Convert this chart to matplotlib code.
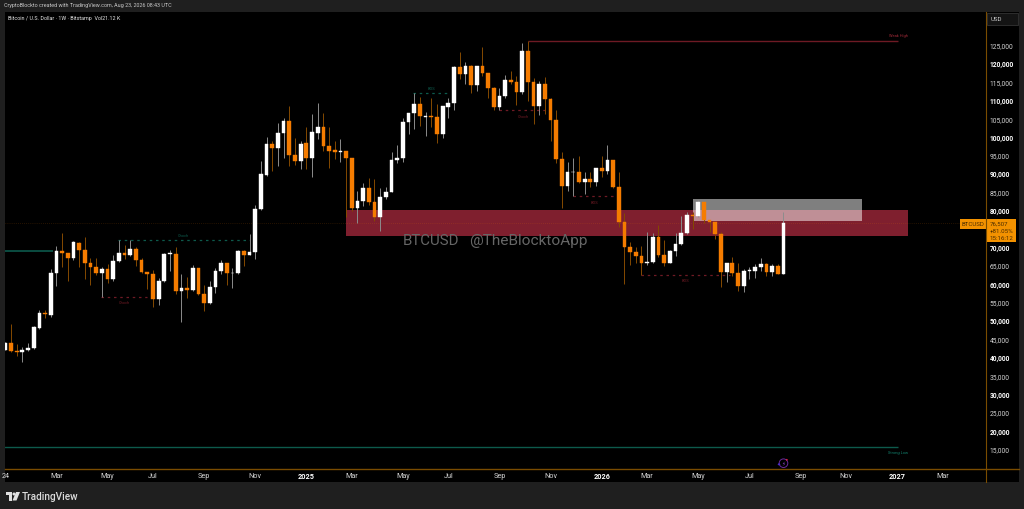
"""BTCUSD weekly candles with supply zones, TradingView style dark theme."""
import matplotlib
matplotlib.use("Agg")
import matplotlib.pyplot as plt
from matplotlib.lines import Line2D
from matplotlib.patches import Circle, Polygon, Rectangle
from matplotlib.transforms import Affine2D

plt.rcParams["font.family"] = ["Roboto", "DejaVu Sans"]

W, H = 1024, 510
ORANGE = "#f57c00"
WICK_UP = "#8c8c8c"
WICK_DOWN = "#854a00"
GOLD_LINE = "#7a4c00"
RED = "#6e1a24"
TEAL = "#0d5a4c"

# weekly bars, week 0 = 2024-01-01
opens = [42000, 43800, 41600, 41300, 41800, 42300, 47900, 52000, 51500, 62900,
         68800, 68300, 66900, 71100, 69200, 65600, 64600, 62900, 63900, 61200,
         66000, 68400, 67600, 69500, 66400, 63100, 62600, 55700, 60700, 68100,
         68100, 57900, 58700, 58100, 64200, 57100, 54700, 58900, 63400, 65500,
         62700, 62700, 68800, 67700, 68600, 80200, 89500, 98000, 97000, 101000,
         104200, 95000, 93300, 98200, 94200, 100900, 102500, 97500, 96400, 95900,
         96100, 94100, 80500, 82400, 86000, 82100, 78100, 83500, 85000, 93700,
         94100, 104000, 106300, 108900, 105400, 105600, 105400, 100800, 108100, 109000,
         119000, 117000, 119300, 113900, 119100, 117200, 113200, 108000, 110900, 115300,
         114800, 112000, 123300, 114900, 108300, 114400, 110300, 104400, 93900, 86600,
         90200, 90300, 87700, 88400, 87600, 91400, 90600, 93500, 86200, 76700,
         70000, 68600, 67500, 65600, 65800, 72700, 67700, 65600, 68700, 70600,
         73700, 78500, 78300, 82200, 77200, 76800, 73500, 63100, 65600, 62900,
         59300, 63500, 63500, 64400, 65300, 63200, 64700, 62600]
highs = [44000, 48900, 43500, 42600, 43700, 48300, 52700, 52800, 63800, 70100,
         73700, 68300, 71500, 71400, 72600, 66800, 67000, 64600, 65400, 67600,
         71900, 70500, 71900, 69900, 67000, 63100, 63700, 61400, 68200, 69200,
         69900, 62600, 61700, 65000, 64200, 59700, 60600, 64100, 66400, 65500,
         64200, 69200, 69200, 73500, 81300, 93200, 99800, 98900, 103600, 105000,
         108200, 99700, 98900, 102600, 106100, 109200, 106400, 102500, 98900, 99300,
         96100, 94100, 85200, 87300, 88700, 88400, 86000, 86300, 95700, 97800,
         105000, 106300, 111800, 110700, 106600, 110400, 108800, 108200, 110400, 119300,
         123000, 120200, 119500, 119200, 124400, 117300, 113400, 113300, 116700, 117800,
         116500, 125500, 126100, 115900, 115200, 116200, 110400, 107200, 95800, 93000,
         94100, 94600, 90300, 90400, 91400, 94600, 97700, 93500, 90300, 79200,
         71200, 70000, 70100, 73900, 73700, 75800, 71800, 69100, 73700, 78300,
         79400, 79400, 82700, 82200, 77200, 76800, 73900, 65600, 67100, 65600,
         63900, 64500, 65400, 66800, 65600, 65300, 65300, 79400]
lows = [41800, 41400, 40300, 38500, 41600, 42100, 47700, 50500, 50900, 59300,
        64500, 60700, 66400, 64400, 61200, 59500, 62300, 56300, 60200, 60700,
        65800, 66600, 67400, 64800, 62800, 58400, 53500, 54200, 60500, 63300,
        57100, 49600, 56000, 57800, 56900, 52600, 54500, 57500, 62500, 59700,
        58700, 62500, 64800, 67600, 66600, 80100, 89200, 90500, 92000, 94200,
        92100, 92200, 91200, 91100, 89100, 99300, 96100, 91400, 93900, 93000,
        78100, 79800, 76400, 81000, 81400, 77000, 74300, 83000, 84900, 92800,
        93100, 100600, 102000, 102900, 100200, 102700, 98200, 99700, 105000, 107300,
        115700, 114300, 111800, 112500, 116600, 110600, 107300, 107100, 110500, 114300,
        108600, 111600, 109600, 103500, 105900, 106200, 98800, 92800, 80500, 85100,
        83700, 87300, 84300, 86200, 86600, 89000, 89900, 85900, 75400, 59800,
        65000, 65500, 62300, 65000, 65500, 67300, 64800, 65500, 67500, 70500,
        73500, 74800, 78000, 76400, 73900, 72200, 58900, 60500, 61900, 57900,
        57700, 61200, 61600, 63500, 62000, 62000, 62600, 62500]
closes = [43800, 41600, 41300, 41900, 42400, 48100, 51900, 51600, 62900, 68800,
          68200, 66900, 71200, 69100, 65600, 64600, 62900, 63900, 61300, 66100,
          68400, 67600, 69500, 66400, 63000, 62500, 55700, 60700, 68000, 68300,
          57900, 58700, 58100, 64200, 57100, 54700, 59000, 63500, 65500, 62700,
          62800, 68800, 67700, 68600, 80300, 89700, 98000, 97000, 101000, 104200,
          94900, 93300, 98000, 94200, 101100, 102500, 97400, 96100, 95900, 96100,
          94100, 80500, 82400, 86000, 82100, 78100, 83500, 85000, 93700, 94100,
          104000, 106300, 108900, 105500, 105600, 105400, 100800, 108200, 109100, 119000,
          117000, 119300, 113900, 119200, 117200, 113200, 108000, 110900, 115300, 114800,
          112000, 123300, 114900, 108300, 114400, 110300, 104400, 93900, 86600, 90300,
          90300, 87700, 88400, 87600, 91400, 90600, 93500, 86200, 76700, 70000,
          68600, 67500, 65600, 65800, 72700, 67700, 65600, 68800, 70600, 73700,
          78500, 78300, 82200, 77200, 76700, 73500, 63100, 65600, 62900, 59300,
          63500, 63700, 64500, 65300, 63200, 64700, 62600, 76507]

# month labels sit on the first bar of the month
tick_weeks = [0, 9, 18, 26, 35, 44, 53, 61, 70, 78, 87, 96, 105, 113, 122, 131, 140, 148, 157, 165]
tick_labels = ["24", "Mar", "May", "Jul", "Sep", "Nov", "2025", "Mar", "May", "Jul", "Sep", "Nov",
               "2026", "Mar", "May", "Jul", "Sep", "Nov", "2027", "Mar"]
# 75,000 is hidden behind the price tag
price_ticks = [15000, 20000, 25000, 30000, 35000, 40000, 45000, 50000, 55000, 60000, 65000, 70000,
               80000, 85000, 90000, 95000, 100000, 105000, 110000, 115000, 120000, 125000]

# zones: week from, week to, price low, price high
red_zone = (60, 159, 73000, 80000)
gray_zone = (121, 150.8, 77100, 83000)
last_price = 76507

# structure lines
teal_line = (-1, 8.4, 68800)
weak_high = (92, 157.2, 126100, "Weak High")
strong_low = (-1, 157.2, 15400, "Strong Low")
dotted_lines = [
    (19.8, 43, 71800, "Choch", TEAL, 1),
    (16.8, 25, 56300, "Choch", RED, -1),
    (71.8, 78.3, 111800, "BOS", TEAL, 1),
    (86.9, 95.5, 107100, "Choch", RED, -1),
    (100, 107.3, 83700, "BOS", RED, -1),
    (112, 127.6, 62300, "BOS", RED, -1),
]

fig = plt.figure(figsize=(W / 100, H / 100), dpi=100, facecolor="#1f1f1f")
# image pixel coordinates, origin top left, for the chrome around the chart
PX = Affine2D().scale(1 / W, -1 / H).translate(0, 1) + fig.transFigure

fig.add_artist(Rectangle((5, 13), 1014, 470, transform=PX, fc="black", ec="none", zorder=-5))

left, right, top, bottom = 5, 985.5, 13, 469.5
ax = fig.add_axes([left / W, 1 - bottom / H, (right - left) / W, (bottom - top) / H], facecolor="black")
ax.set_xlim((left - 5.3) / 5.68, (right - 5.3) / 5.68)
ax.set_ylim(137444 - 272.3 * bottom, 137444 - 272.3 * top)

# zones under the candles
x0, x1, y0, y1 = red_zone
ax.add_patch(Rectangle((x0, y0), x1 - x0, y1 - y0, fc="#7f1f2e", ec="none", zorder=1))
x0, x1, y0, y1 = gray_zone
ax.add_patch(Rectangle((x0, y0), x1 - x0, y1 - y0, fc="white", alpha=0.5, ec="none", zorder=1.1))

ax.axhline(last_price, color=ORANGE, lw=0.5, ls=(0, (1, 2)), alpha=0.3, zorder=1.2)

# structure lines and their tiny labels
ax.hlines(teal_line[2], teal_line[0], teal_line[1], color=TEAL, lw=1.2, zorder=1.5)
ax.hlines(weak_high[2], weak_high[0], weak_high[1], color=RED, lw=1.0, zorder=1.5)
ax.hlines(strong_low[2], strong_low[0], strong_low[1], color=TEAL, lw=1.0, zorder=1.5)
ax.annotate(weak_high[3], (weak_high[1], weak_high[2]), xytext=(0, 3.8), textcoords="offset points",
            ha="center", va="center", fontsize=2.9, color="#a02a38")
ax.annotate(strong_low[3], (strong_low[1], strong_low[2]), xytext=(0, -3.8), textcoords="offset points",
            ha="center", va="center", fontsize=2.9, color="#12806c")
for start, end, price, label, color, side in dotted_lines:
    ax.hlines(price, start, end, color=color, lw=0.9, ls=(0, (2, 3)), zorder=1.5)
    ax.annotate(label, ((start + end) / 2, price), xytext=(0, 3.8 * side), textcoords="offset points",
                ha="center", va="center", fontsize=2.9, color=color)

# candles
weeks = list(range(len(opens)))
body_colors = ["white" if c >= o else ORANGE for o, c in zip(opens, closes)]
wick_colors = [WICK_UP if c >= o else WICK_DOWN for o, c in zip(opens, closes)]
ax.vlines(weeks, lows, highs, colors=wick_colors, lw=0.7, zorder=2)
body_low = [min(o, c) for o, c in zip(opens, closes)]
body_size = [abs(c - o) for o, c in zip(opens, closes)]
ax.bar(weeks, body_size, bottom=body_low, width=0.66, color=body_colors,
       edgecolor=body_colors, linewidth=0.3, zorder=3)

# axes
for name, spine in ax.spines.items():
    spine.set_visible(False)
ax.yaxis.tick_right()
ax.set_yticks(price_ticks)
ax.set_yticklabels([f"{p:,}" for p in price_ticks], fontsize=4.8, color="#d6d6d6")
for p, lab in zip(price_ticks, ax.get_yticklabels()):
    if p % 10000 == 0:
        lab.set_color("white")
        lab.set_fontweight("bold")
ax.tick_params(axis="y", length=0, pad=3)
ax.set_xticks(tick_weeks)
ax.set_xticklabels(tick_labels, fontsize=5.2, color="#d6d6d6")
for lab in ax.get_xticklabels():
    if lab.get_text().startswith("20"):
        lab.set_color("white")
        lab.set_fontweight("bold")
ax.tick_params(axis="x", length=0, pad=2.5)

fig.add_artist(Line2D([5, 1019], [469.5, 469.5], transform=PX, color=GOLD_LINE, lw=1.0))
fig.add_artist(Line2D([985.7, 985.7], [13, 483], transform=PX, color=GOLD_LINE, lw=0.8))

# price tag
ax.add_patch(Rectangle((960, 220), 25.7, 9.5, transform=PX, fc="#f39200", ec="none", clip_on=False, zorder=10))
ax.add_patch(Rectangle((985.7, 220), 30, 22.7, transform=PX, fc="#f39200", ec="none", clip_on=False, zorder=10))
tag_text = "#4a2c00"
ax.text(972.8, 224.6, "BTCUSD", transform=PX, fontsize=4.4, color=tag_text, ha="center", va="center", zorder=11, clip_on=False)
ax.text(989.5, 224.6, f"{last_price:,}", transform=PX, fontsize=4.4, color=tag_text, va="center", zorder=11, clip_on=False)
ax.text(989.5, 231.6, "+81.05%", transform=PX, fontsize=4.4, color=tag_text, va="center", zorder=11, clip_on=False)
ax.text(989.5, 238.9, "15:16:12", transform=PX, fontsize=4.4, color=tag_text, va="center", zorder=11, clip_on=False)

# watermark
fig.text(403 / W, 1 - 241.5 / H, "BTCUSD", fontsize=10.8, color="#666666", va="center")
fig.text(469 / W, 1 - 241.5 / H, "@TheBlocktoApp", fontsize=11.1, color="#666666", va="center")

# header, currency box, footer
fig.text(4 / W, 1 - 6 / H, "CryptoBlockto created with TradingView.com, Aug 23, 2026 08:43 UTC",
         fontsize=3.9, color="#c8c8c8", va="center")
fig.text(8 / W, 1 - 18.3 / H, "Bitcoin / U.S. Dollar · 1W · Bitstamp  Vol21.12 K",
         fontsize=3.9, color="#e4e4e4", va="center")
fig.add_artist(Rectangle((987.3, 13.5), 30.4, 12, transform=PX, fc="#141414", ec="#333333", lw=0.6))
fig.text(990.5 / W, 1 - 19.5 / H, "USD", fontsize=4.4, color="#c8c8c8", va="center")

fig.add_artist(Polygon([(5.5, 493), (12, 493), (12, 501.5), (8.5, 501.5), (8.5, 496), (5.5, 496)],
                       transform=PX, fc="#e0e0e0", ec="none"))
fig.add_artist(Circle((14, 495), 1.5, transform=PX, fc="#e0e0e0", ec="none"))
fig.add_artist(Polygon([(16, 493), (20, 493), (16.5, 501.5), (12.5, 501.5)],
                       transform=PX, fc="#e0e0e0", ec="none"))
fig.text(22 / W, 1 - 497 / H, "TradingView", fontsize=7.2, color="#dcdcdc", va="center", fontweight="medium")

# earnings style icon on the time scale edge
fig.add_artist(Circle((783.5, 464.2), 4.3, transform=PX, fc="none", ec="#6a2a9a", lw=0.7))
fig.text(783.5 / W, 1 - 464.2 / H, "⚡", fontsize=4, color="#8a3fc0", ha="center", va="center",
         family=["DejaVu Sans"])
fig.add_artist(Circle((786.8, 460.8), 0.9, transform=PX, fc="#e02040", ec="none"))
fig.add_artist(Polygon([(777.5, 465.3), (779, 464), (780.5, 465.3), (779, 466.6)],
                       transform=PX, fc="#4a2ad0", ec="none"))

fig.savefig("out.png", dpi=100, facecolor=fig.get_facecolor())
